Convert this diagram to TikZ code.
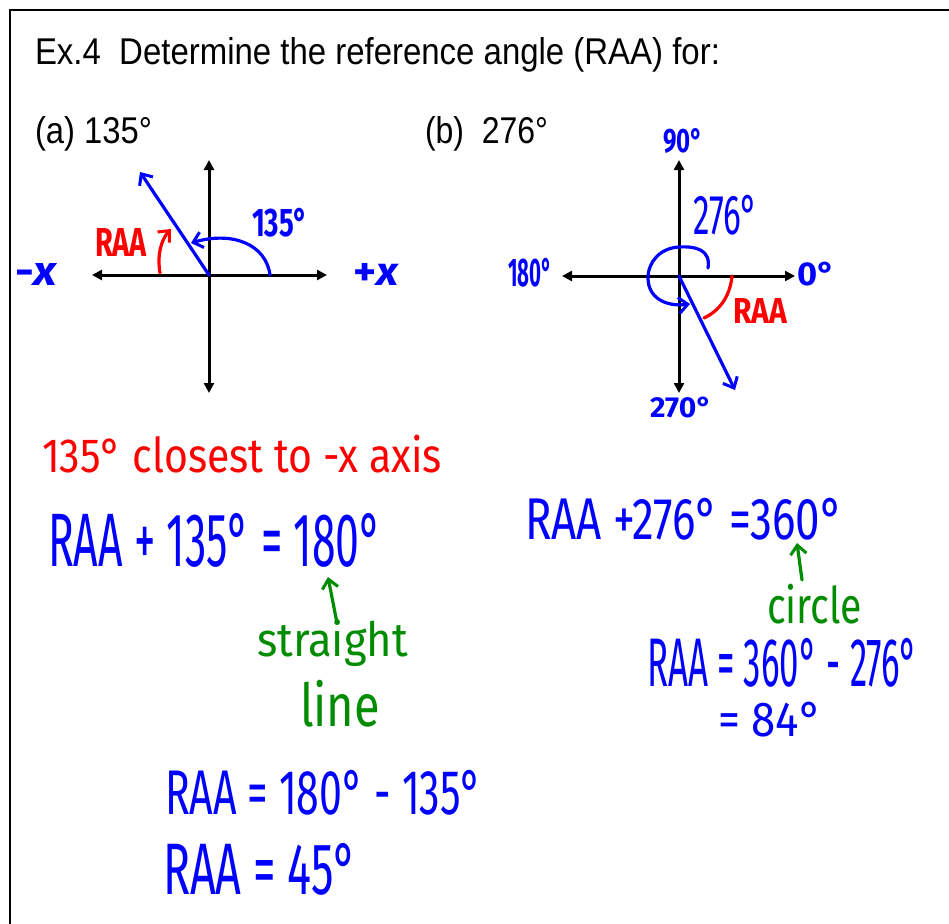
\documentclass[tikz,border=0pt]{standalone}
\usepackage{fontspec}
\usepackage{graphicx}
\setmainfont{Liberation Sans}
\newfontfamily\hand{Fira Sans}
\usetikzlibrary{arrows.meta}
\definecolor{hblue}{RGB}{0,0,255}
\definecolor{hred}{RGB}{255,0,0}
\definecolor{hgreen}{RGB}{0,140,0}
\newcommand\fitbox[3]{\resizebox*{#1pt}{#2pt}{\hand\fontsize{40}{40}\selectfont #3}}
\newcommand\fitboxb[3]{\resizebox*{#1pt}{#2pt}{\hand\bfseries\fontsize{40}{40}\selectfont #3}}
\newcommand\printbox[3]{\resizebox{#1pt}{#2pt}{\fontsize{36}{36}\selectfont #3}}
\tikzset{
  hw/.style={inner sep=0pt, outer sep=0pt, anchor=south west},
  pt/.style={inner sep=0pt, outer sep=0pt, anchor=base west, text=black},
  axis/.style={line width=3pt, black, {Triangle[length=10pt,width=10pt]}-{Triangle[length=10pt,width=10pt]}},
  pen/.style={line width=3.2pt, line cap=round, line join=round},
  penarrow/.style={pen, -{Straight Barb[length=9pt,width=16pt,line width=3pt]}}
}
\begin{document}
\begin{tikzpicture}[x=1pt,y=-1pt]
\useasboundingbox (0,0) rectangle (949,923);
\clip (0,0) rectangle (949,923);
\fill[white] (0,0) rectangle (949,923);
% frame
\coordinate (fb) at (10,940);
\coordinate (ftl) at (10,10);
\coordinate (fr) at (960,10);
\draw[line width=2.2pt] (fb) -- (ftl) -- (fr);

% printed text
\node[pt] (title) at (35,65) {\printbox{685}{27}{Ex.4\ \ Determine the reference angle (RAA) for:}};
\node[pt] (pa) at (35,143) {\printbox{117}{27}{(a) 135°}};
\node[pt] (pb) at (425,143) {\printbox{123}{27}{(b)\ \ 276°}};

% ---- axes (a)
\coordinate (Oa) at (209,275);
\coordinate (aL) at (92,275);
\coordinate (aR) at (327,275);
\coordinate (aT) at (209,160);
\coordinate (aB) at (209,393);
\draw[axis] (aL) -- (aR);
\draw[axis] (aT) -- (aB);
\coordinate (rayA) at (140,172);
\draw[hblue, penarrow] (Oa) -- (rayA);
\coordinate (arcAs) at (270,275);
\coordinate (arcAe) at (191,243);
\draw[hblue, penarrow] (arcAs) .. controls (266,244) and (232,231) .. (arcAe);
\coordinate (raaAs) at (160,273);
\coordinate (raaAe) at (171,229);
\draw[hred, penarrow] (raaAs) .. controls (157,255) and (161,240) .. (raaAe);

\node[hw, text=hred] (raaA) at (95,256) {\fitboxb{52}{28}{RAA}};
\node[hw, text=hblue] (l135) at (252,237) {\fitboxb{56}{29}{135°}};
\node[hw, text=hblue] (mx) at (15,285) {\fitboxb{43}{22}{-\textit{x}}};
\node[hw, text=hblue] (px) at (353,285) {\fitboxb{46}{22}{+\textit{x}}};

% ---- axes (b)
\coordinate (Ob) at (679,276);
\coordinate (bL) at (562,276);
\coordinate (bR) at (795,276);
\coordinate (bT) at (679,160);
\coordinate (bB) at (679,393);
\draw[axis] (bL) -- (bR);
\draw[axis] (bT) -- (bB);
\coordinate (rayB) at (735,390);
\draw[hblue, penarrow] (Ob) -- (rayB);
\coordinate (arcBs) at (708,268);
\coordinate (arcBe) at (690,304);
\draw[hblue, penarrow] (arcBs) .. controls (711,250) and (696,246) .. (679,247)
   .. controls (660,248) and (648,262) .. (648,278)
   .. controls (648,298) and (666,307) .. (arcBe);
\coordinate (raaBs) at (732,276);
\coordinate (raaBe) at (704,318);
\draw[hred, pen] (raaBs) .. controls (730,297) and (719,311) .. (raaBe);

\node[hw, text=hblue] (l90) at (663,153) {\fitboxb{40}{25}{90°}};
\node[hw, text=hblue] (l276) at (693,235) {\fitbox{65}{40}{276°}};
\node[hw, text=hblue] (l180) at (508,287) {\fitboxb{44}{29}{180°}};
\node[hw, text=hblue] (l0) at (797,286) {\fitboxb{38}{24}{0°}};
\node[hw, text=hred] (raaB) at (733,323) {\fitboxb{54}{25}{RAA}};
\node[hw, text=hblue] (l270) at (650,418) {\fitboxb{62}{21}{270°}};

% ---- working (a)
\node[hw, text=hred] (close) at (42,473) {\fitbox{400}{38}{135° closest to -x axis}};
\node[hw, text=hblue] (eq1) at (48,567) {\fitbox{334}{54}{RAA + 135° = 180°}};
\node[hw, text=hgreen] (strt) at (257,667) {\fitbox{151}{47}{straight}};
\node[hw, text=hgreen] (line) at (300,727) {\fitbox{80}{47}{line}};
\coordinate (g1s) at (337,623);
\coordinate (g1e) at (328,577);
\draw[hgreen, penarrow] (g1s) -- (g1e);
\node[hw, text=hblue] (eq2) at (165,815) {\fitbox{317}{45}{RAA = 180° - 135°}};
\node[hw, text=hblue] (eq3) at (163,895) {\fitbox{194}{52}{RAA = 45°}};

% ---- working (b)
\node[hw, text=hblue] (eq4) at (525,540) {\fitbox{318}{42}{RAA +276° =360°}};
\coordinate (g2s) at (802,580);
\coordinate (g2e) at (797,543);
\draw[hgreen, penarrow] (g2s) -- (g2e);
\node[hw, text=hgreen] (circ) at (767,624) {\fitbox{95}{40}{circle}};
\node[hw, text=hblue] (eq5) at (647,687) {\fitbox{271}{49}{RAA = 360° - 276°}};
\node[hw, text=hblue] (eq6) at (718,737) {\fitbox{104}{35}{= 84°}};
\end{tikzpicture}
\end{document}
